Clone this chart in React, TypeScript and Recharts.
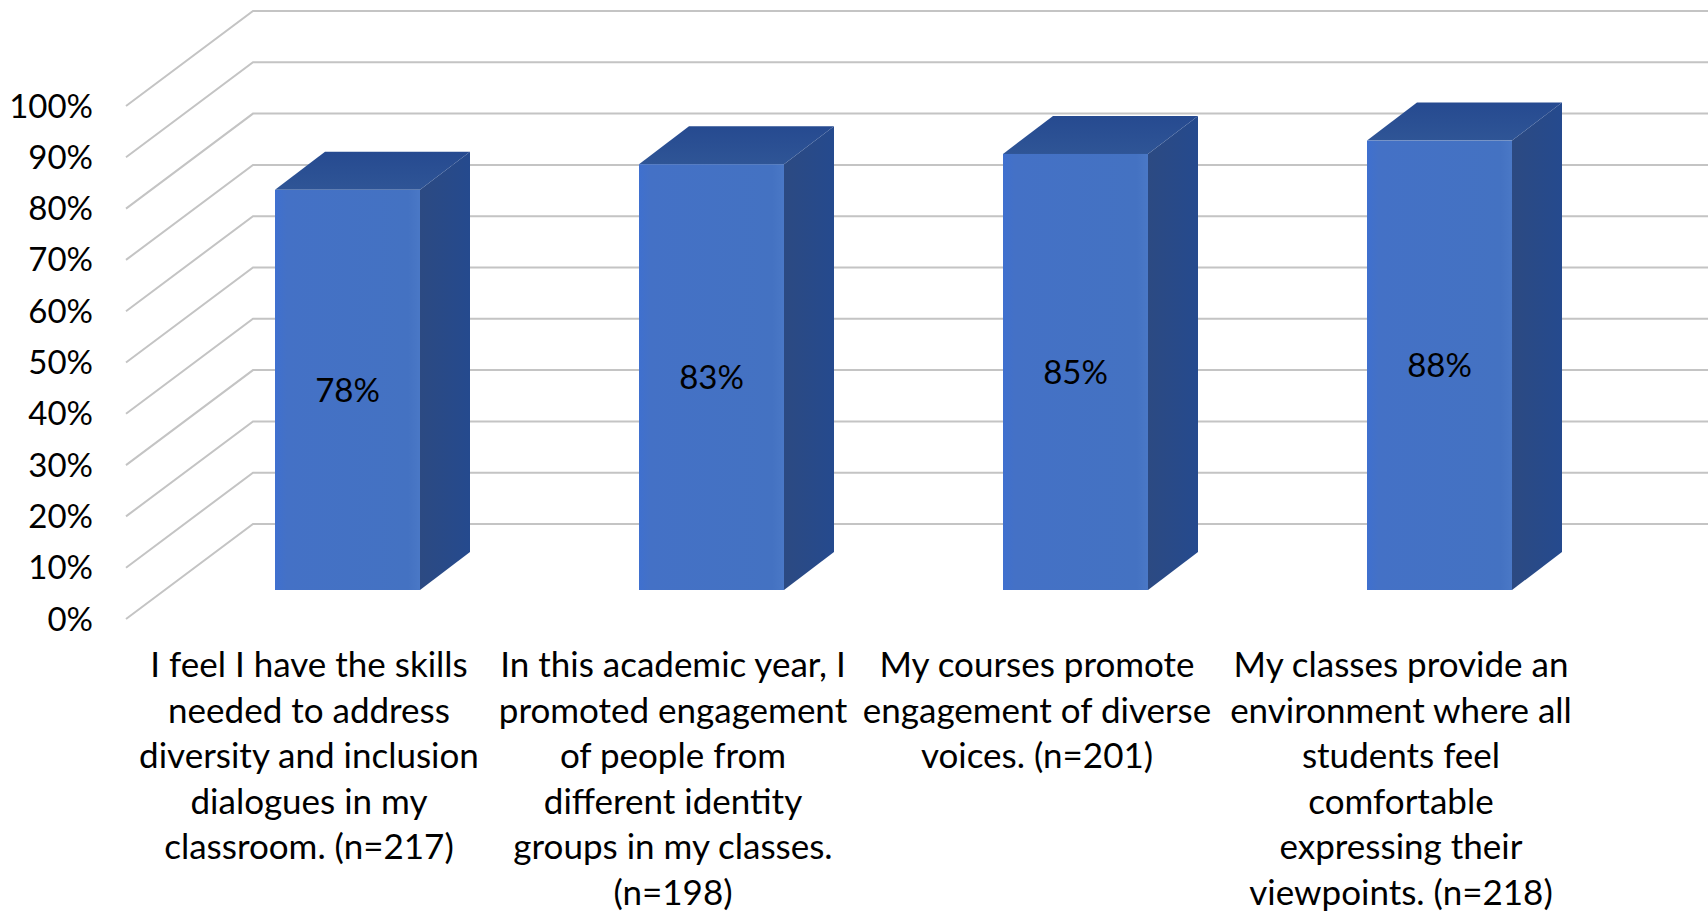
import React from 'react';
import { BarChart, Bar, XAxis, YAxis, CartesianGrid, LabelList } from 'recharts';

const categoryLines = [
  ['I feel I have the skills', 'needed to address', 'diversity and inclusion', 'dialogues in my', 'classroom. (n=217)'],
  ['In this academic year, I', 'promoted engagement', 'of people from', 'different identity', 'groups in my classes.', '(n=198)'],
  ['My courses promote', 'engagement of diverse', 'voices. (n=201)'],
  ['My classes provide an', 'environment where all', 'students feel', 'comfortable', 'expressing their', 'viewpoints. (n=218)'],
];
const values = [78, 83, 85, 87.6];
const yTicks = [0, 10, 20, 30, 40, 50, 60, 70, 80, 90, 100];

const chartData = categoryLines.map((lines, i) => ({ name: lines.join(' '), value: values[i] }));

const W = 1708;
const H = 911;
const FONT = 'Lato, "Open Sans", sans-serif';
const FONT_SIZE = 33;
const CATEGORY_FONT_SIZE = 35;

// fake 3D offsets
const BAR_DX = 50;
const BAR_DY = 38;
const FLOOR_FRONT_DY = 29;
const FLOOR_BACK_DY = 66;
const WALL_LEFT = 253;
const FRONT_LEFT = 126;

function GridLine(props: any) {
  const y = props.y1;
  const points = `${FRONT_LEFT},${y + FLOOR_FRONT_DY} ${WALL_LEFT},${y - FLOOR_BACK_DY} ${W},${y - FLOOR_BACK_DY}`;
  return <polyline points={points} fill="none" stroke="#c4c4c4" strokeWidth={2} />;
}

function Box3D({ x, y, width, height }: any) {
  const r = x + width;
  const b = y + height;
  return (
    <g>
      <polygon
        points={`${r},${y} ${r + BAR_DX},${y - BAR_DY} ${r + BAR_DX},${b - BAR_DY} ${r},${b}`}
        fill="url(#sideFill)"
      />
      <polygon
        points={`${x},${y} ${x + BAR_DX},${y - BAR_DY} ${r + BAR_DX},${y - BAR_DY} ${r},${y}`}
        fill="url(#topFill)"
      />
      <rect x={x} y={y} width={width} height={height} fill="url(#frontFill)" />
    </g>
  );
}

function YTick({ y, payload }: any) {
  return (
    <text x={93} y={y + FLOOR_FRONT_DY} dy="0.35em" textAnchor="end" fontFamily={FONT} fontSize={FONT_SIZE} fill="#000">
      {payload.value}%
    </text>
  );
}

function XTick({ x, payload }: any) {
  const lines = categoryLines[payload.index];
  return (
    <text textAnchor="middle" fontFamily={FONT} fontSize={CATEGORY_FONT_SIZE} fill="#000">
      {lines.map((line, i) => (
        <tspan key={i} x={x - 38} y={677 + i * 45.6}>{line}</tspan>
      ))}
    </text>
  );
}

export default function App() {
  return (
    <div style={{ position: 'absolute', left: 0, top: 0, width: W, height: H, background: '#fff' }}>
      <BarChart width={W} height={H} data={chartData} margin={{ top: 77, right: 87, bottom: 0, left: 0 }}>
        <defs>
          <linearGradient id="frontFill" x1="0" y1="0" x2="1" y2="0">
            <stop offset="0%" stopColor="#3f70cf" />
            <stop offset="8%" stopColor="#4471c6" />
            <stop offset="92%" stopColor="#4472c2" />
            <stop offset="100%" stopColor="#4a78c6" />
          </linearGradient>
          <linearGradient id="sideFill" x1="0" y1="0" x2="1" y2="0">
            <stop offset="0%" stopColor="#2c4a82" />
            <stop offset="100%" stopColor="#254a8e" />
          </linearGradient>
          <linearGradient id="topFill" x1="0" y1="0" x2="0" y2="1">
            <stop offset="0%" stopColor="#264a90" />
            <stop offset="100%" stopColor="#2f5596" />
          </linearGradient>
        </defs>
        <CartesianGrid horizontal={<GridLine />} vertical={false} />
        <XAxis dataKey="name" height={321} interval={0} axisLine={false} tickLine={false} tick={<XTick />} />
        <YAxis
          width={165}
          domain={[0, 100]}
          ticks={yTicks}
          interval={0}
          axisLine={false}
          tickLine={false}
          tick={<YTick />}
        />
        <Bar dataKey="value" barSize={145} shape={<Box3D />} isAnimationActive={false}>
          <LabelList
            dataKey="value"
            position="center"
            formatter={(v: any) => `${Math.round(v)}%`}
            fontFamily={FONT}
            fontSize={FONT_SIZE}
            fill="#000"
          />
        </Bar>
      </BarChart>
    </div>
  );
}
